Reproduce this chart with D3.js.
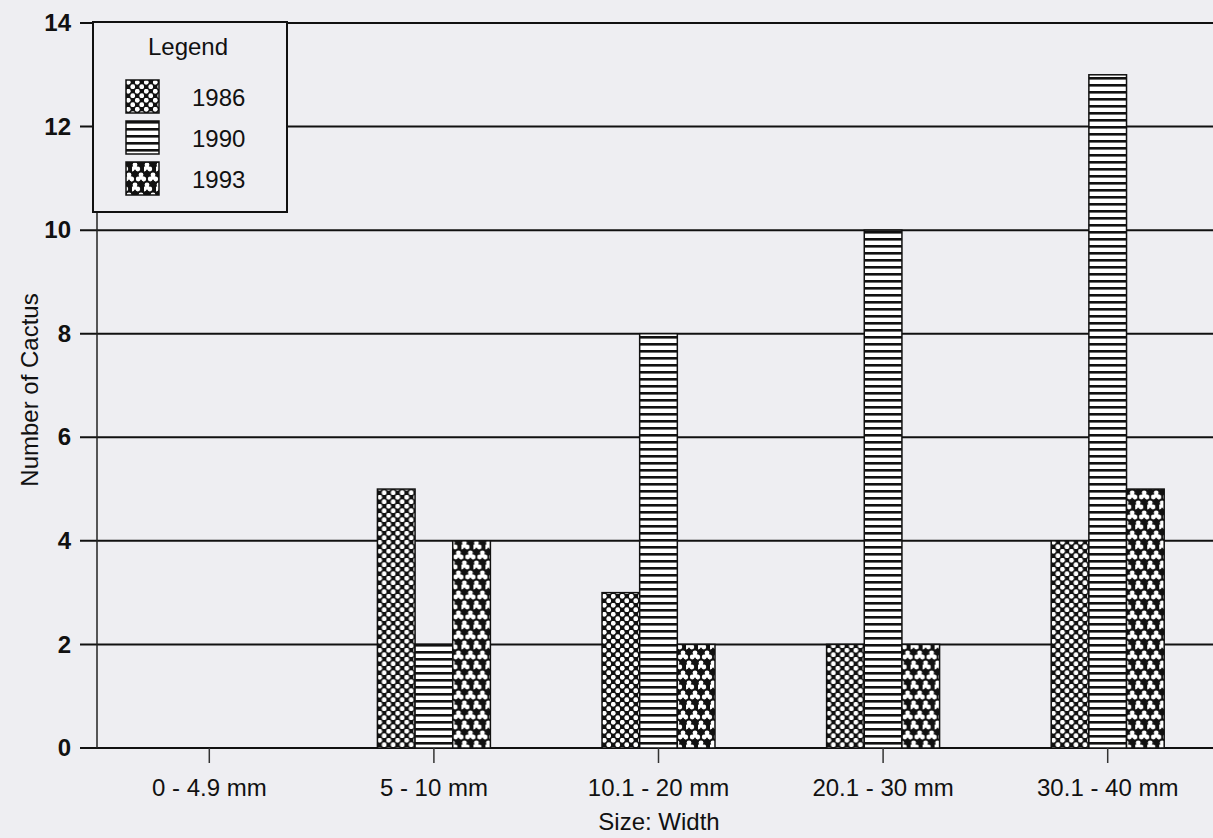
<!DOCTYPE html>
<html>
<head>
<meta charset="utf-8">
<script src="https://cdn.jsdelivr.net/npm/d3@7"></script>
<style>
  html, body { margin: 0; padding: 0; background: #eeeef2; }
  svg { display: block; }
  text { font-family: "Liberation Sans", Arial, sans-serif; fill: #111; }
</style>
</head>
<body>
<svg id="chart" width="1213" height="838"></svg>
<script>
// ---- data ----
const categories = ["0 - 4.9 mm", "5 - 10 mm", "10.1 - 20 mm", "20.1 - 30 mm", "30.1 - 40 mm"];
const years = ["1986", "1990", "1993"];
const values1986 = [0, 5, 3, 2, 4];
const values1990 = [0, 2, 8, 10, 13];
const values1993 = [0, 4, 2, 2, 5];
const yTicks = [0, 2, 4, 6, 8, 10, 12, 14];
const yTitle = "Number of Cactus";
const xTitle = "Size: Width";
const legendTitle = "Legend";

const seriesValues = { "1986": values1986, "1990": values1990, "1993": values1993 };

(function () {
const svg = d3.select("#chart");
const W = 1213, H = 838;
svg.append("rect").attr("width", W).attr("height", H).attr("fill", "#eeeef2");

// ---- patterns ----
const defs = svg.append("defs");
// 1986: white dots on black, staggered
const p1 = defs.append("pattern").attr("id", "pat1986").attr("patternUnits", "userSpaceOnUse")
  .attr("width", 9).attr("height", 9);
p1.append("rect").attr("width", 9).attr("height", 9).attr("fill", "#111");
[[2.25, 2.25], [6.75, 6.75]].forEach(([cx, cy]) =>
  p1.append("circle").attr("cx", cx).attr("cy", cy).attr("r", 2.4).attr("fill", "#fff"));
// 1990: horizontal lines
const p2 = defs.append("pattern").attr("id", "pat1990").attr("patternUnits", "userSpaceOnUse")
  .attr("width", 8).attr("height", 7);
p2.append("rect").attr("width", 8).attr("height", 7).attr("fill", "#fff");
p2.append("rect").attr("y", 0).attr("width", 8).attr("height", 2.6).attr("fill", "#111");
// 1993: white trefoils on black
const p3 = defs.append("pattern").attr("id", "pat1993").attr("patternUnits", "userSpaceOnUse")
  .attr("width", 12).attr("height", 20);
p3.append("rect").attr("width", 12).attr("height", 20).attr("fill", "#111");
function trefoil(g, cx, cy) {
  const gg = g.append("g").attr("transform", `translate(${cx},${cy})`).attr("fill", "#fff");
  gg.append("circle").attr("cx", 0).attr("cy", -2.2).attr("r", 2.4);
  gg.append("circle").attr("cx", -2.8).attr("cy", 2).attr("r", 2.4);
  gg.append("circle").attr("cx", 2.8).attr("cy", 2).attr("r", 2.4);
  gg.append("circle").attr("cx", 0).attr("cy", 0.6).attr("r", 2.2);
}
[[3, 5], [9, 15], [-3, 15], [15, 15], [3, 25], [9, -5], [-3, -5], [15, -5], [15, 25], [-3, 25]]
  .forEach(([cx, cy]) => trefoil(p3, cx, cy));
const fills = { "1986": "url(#pat1986)", "1990": "url(#pat1990)", "1993": "url(#pat1993)" };

// ---- scales ----
const mLeft = 97, mRight = 1220, mTop = 23, mBottom = 748;
const y = d3.scaleLinear().domain([0, 14]).range([mBottom, mTop]);
const x0 = d3.scaleBand().domain(categories).range([mLeft, mRight])
  .paddingInner(0.497).paddingOuter(0.2485);
const x1 = d3.scaleBand().domain(years).range([0, x0.bandwidth()]);

// ---- gridlines ----
const grid = svg.append("g");
grid.selectAll("line").data(yTicks).join("line")
  .attr("x1", 80).attr("x2", W)
  .attr("y1", d => y(d)).attr("y2", d => y(d))
  .attr("stroke", "#111").attr("stroke-width", 2);

// vertical axis line
svg.append("line").attr("x1", mLeft).attr("x2", mLeft).attr("y1", y(14)).attr("y2", y(0))
  .attr("stroke", "#222").attr("stroke-width", 1.5);

// ---- y axis labels ----
const yAxis = d3.axisLeft(y).tickValues(yTicks).tickSize(0).tickPadding(0);
const yg = svg.append("g").attr("transform", `translate(${71},0)`).call(yAxis);
yg.select(".domain").remove();
yg.selectAll("text").attr("font-size", 24).attr("font-weight", "bold")
  .style("font-family", "'Liberation Sans', Arial, sans-serif").attr("fill", "#111");

// ---- bars ----
const groups = svg.append("g").selectAll("g").data(categories).join("g")
  .attr("transform", d => `translate(${x0(d)},0)`);
groups.selectAll("rect")
  .data((c, i) => years.map(yr => ({ yr, v: seriesValues[yr][i] })).filter(d => d.v > 0))
  .join("rect")
  .attr("x", d => x1(d.yr))
  .attr("width", x1.bandwidth())
  .attr("y", d => y(d.v))
  .attr("height", d => y(0) - y(d.v))
  .attr("fill", d => fills[d.yr])
  .attr("stroke", "#111").attr("stroke-width", 1.5);

// ---- x axis ----
const xAxis = d3.axisBottom(x0).tickSize(15).tickPadding(16);
const xg = svg.append("g").attr("transform", `translate(0,${mBottom})`).call(xAxis);
xg.select(".domain").remove();
xg.selectAll(".tick line").attr("stroke", "#333").attr("stroke-width", 1.5);
xg.selectAll("text").attr("font-size", 24)
  .style("font-family", "'Liberation Sans', Arial, sans-serif").attr("fill", "#111");

// ---- titles ----
svg.append("text").attr("x", 659).attr("y", 830).attr("text-anchor", "middle")
  .attr("font-size", 24).text(xTitle);
svg.append("text").attr("transform", "translate(38,390) rotate(-90)")
  .attr("text-anchor", "middle").attr("font-size", 24).text(yTitle);

// ---- legend ----
const lg = svg.append("g");
lg.append("rect").attr("x", 93).attr("y", 22).attr("width", 194).attr("height", 190)
  .attr("fill", "#eeeef2").attr("stroke", "#111").attr("stroke-width", 2);
lg.append("text").attr("x", 188).attr("y", 55).attr("text-anchor", "middle")
  .attr("font-size", 24).text(legendTitle);
const ly = d3.scaleBand().domain(years).range([80, 203]);
const rows = lg.selectAll("g.row").data(years).join("g").attr("class", "row")
  .attr("transform", d => `translate(0,${ly(d)})`);
rows.append("rect").attr("x", 126).attr("y", 0).attr("width", 33).attr("height", 33)
  .attr("fill", d => fills[d]).attr("stroke", "#111").attr("stroke-width", 1.5);
rows.append("text").attr("x", 192).attr("y", 26).attr("font-size", 24).text(d => d);
})();
</script>
</body>
</html>
